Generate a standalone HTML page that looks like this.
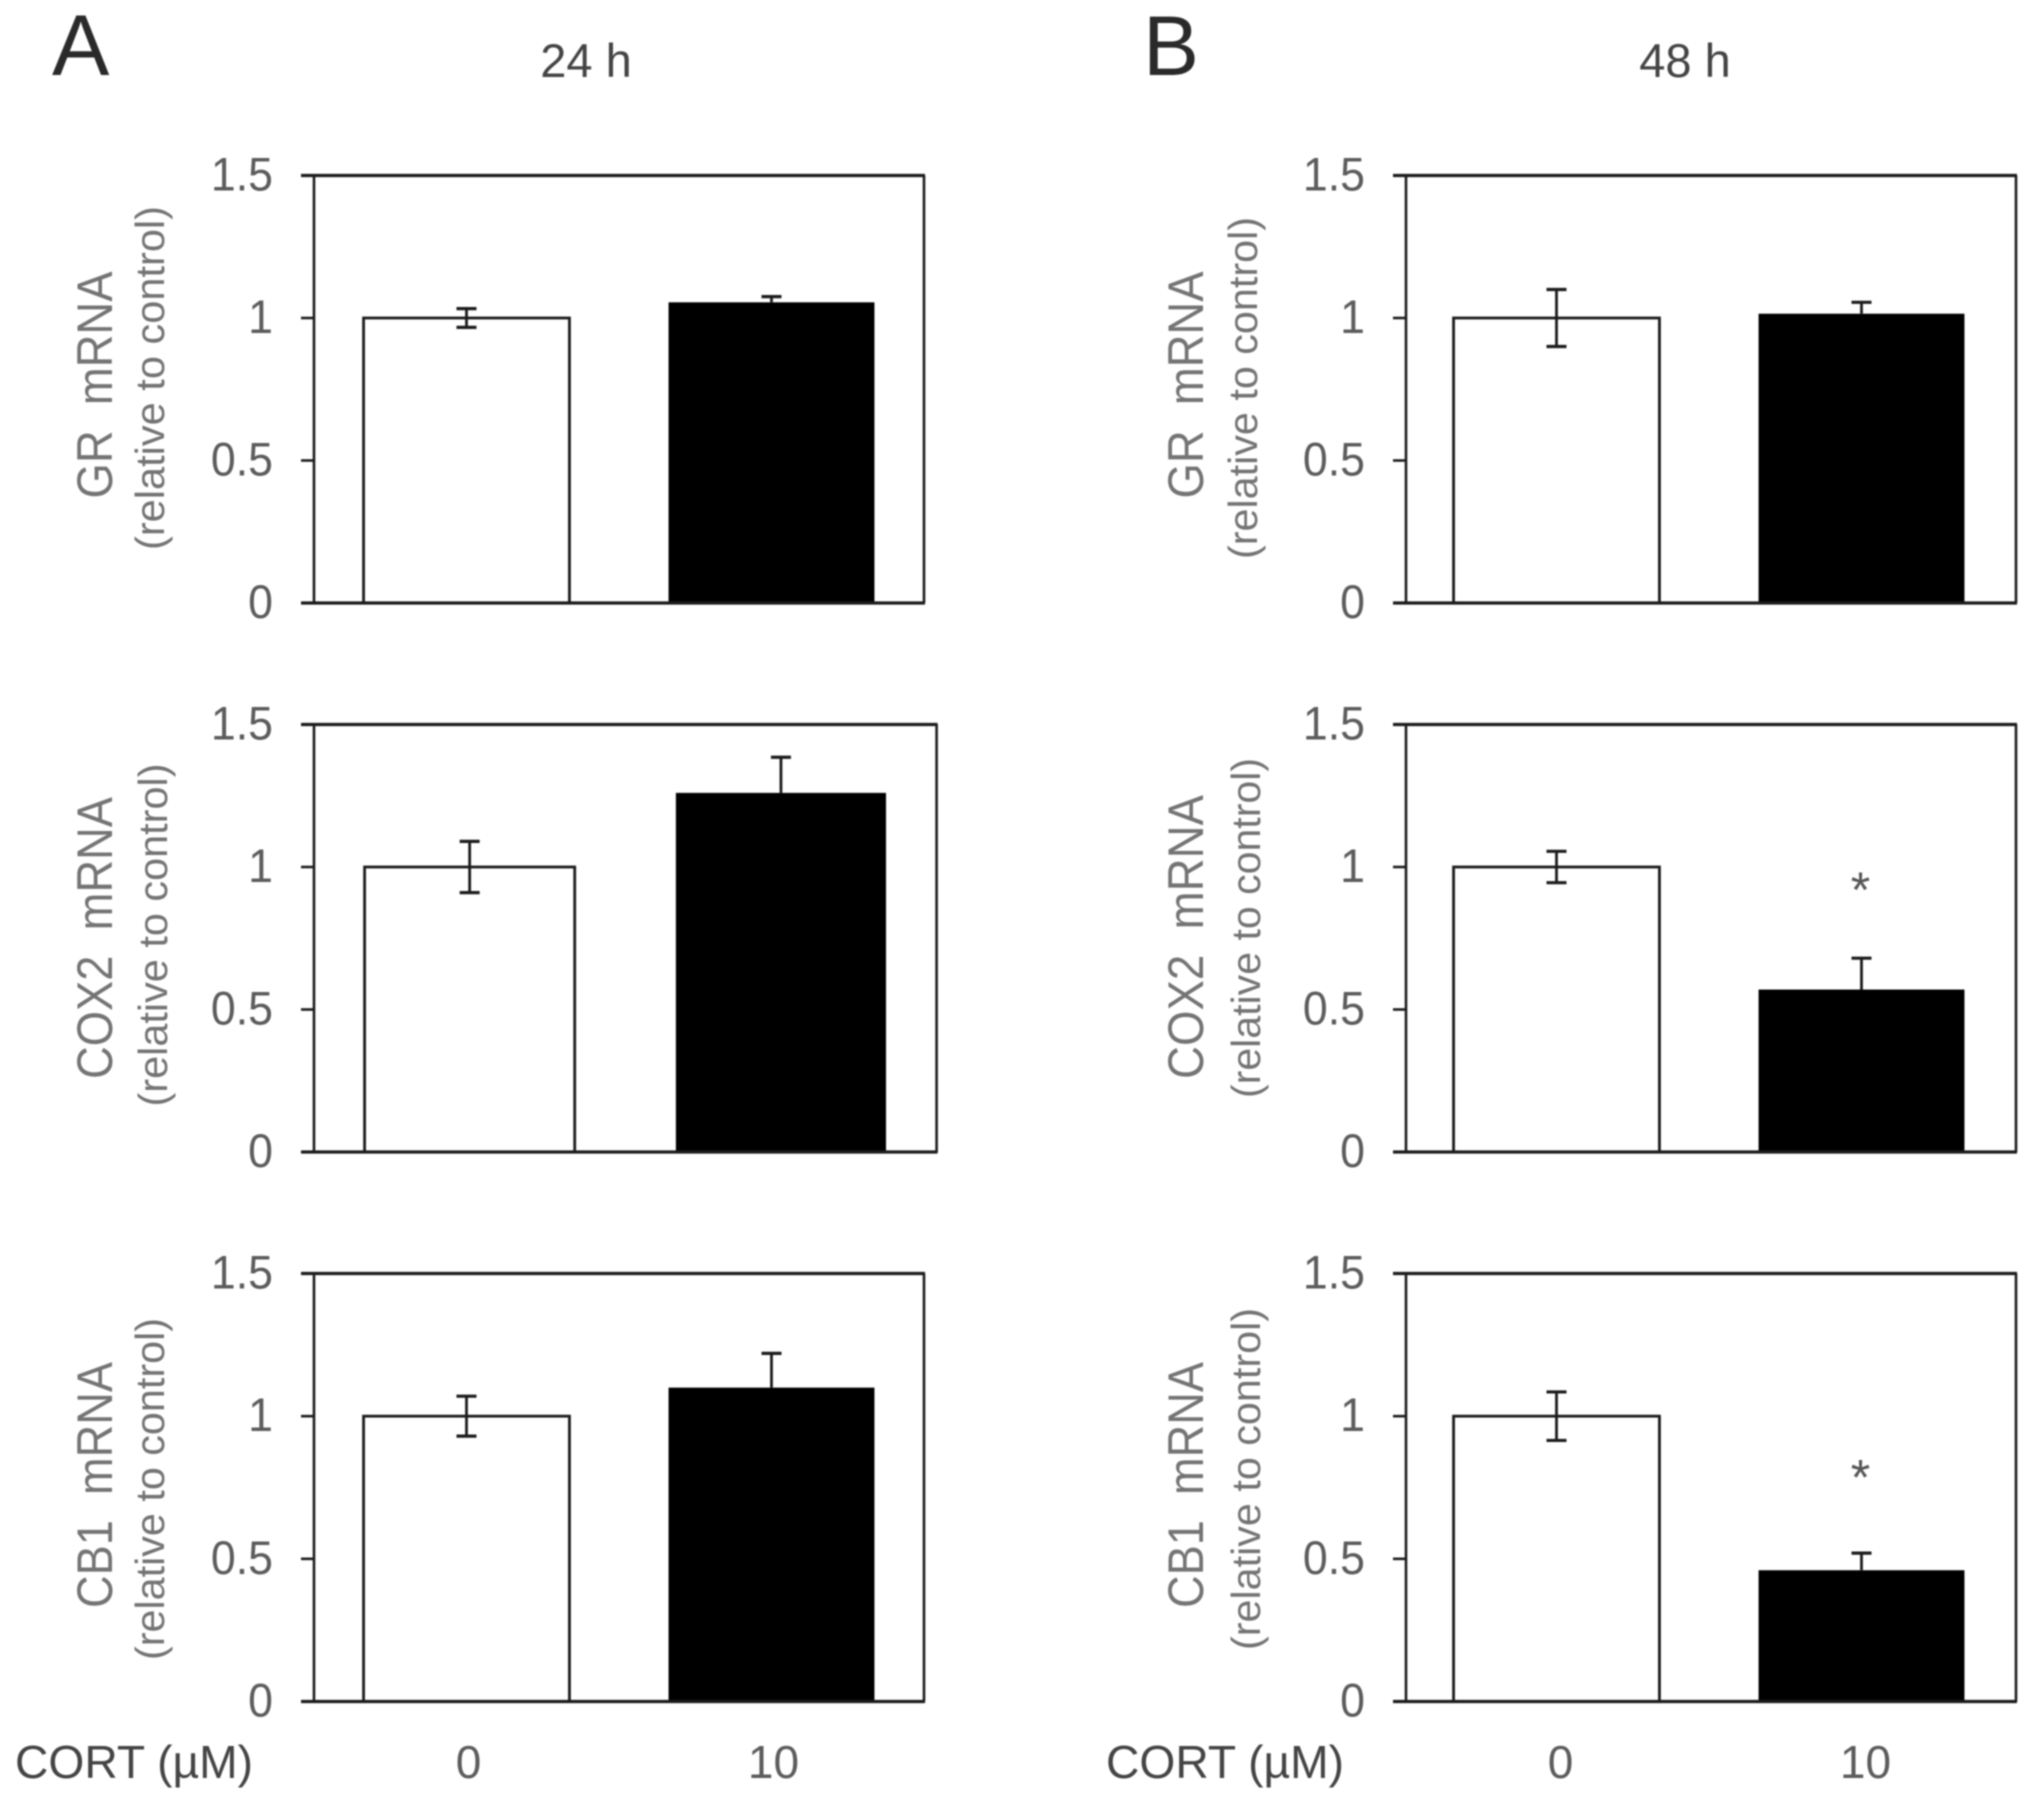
<!DOCTYPE html>
<html lang="en">
<head>
<meta charset="utf-8">
<title>GR, COX2 and CB1 mRNA after CORT treatment</title>
<style>
html,body{margin:0;padding:0;background:#fff;width:2031px;height:1802px;overflow:hidden}
#figure{display:block;filter:blur(0.7px)}
text{font-family:"Liberation Sans",sans-serif}
</style>
</head>
<body>
<svg id="figure" xmlns="http://www.w3.org/2000/svg" width="2031" height="1802" viewBox="0 0 2031 1802">
  <rect x="0" y="0" width="2031" height="1802" fill="#fff"/>
  <text x="52" y="75" font-size="86" fill="#2a2a2a">A</text>
  <text x="1143" y="75" font-size="84" fill="#2a2a2a">B</text>
  <text transform="translate(586,77)" text-anchor="middle" font-size="47" fill="#444">24 h</text>
  <text transform="translate(1685,77)" text-anchor="middle" font-size="47" fill="#444">48 h</text>
  <text x="15" y="1778" font-size="46" textLength="238" lengthAdjust="spacingAndGlyphs" fill="#444">CORT (µM)</text>
  <text x="1106" y="1778" font-size="46" textLength="238" lengthAdjust="spacingAndGlyphs" fill="#444">CORT (µM)</text>
  <g id="charts"></g>
</svg>
<script>
// ---- chart data ----
const genes = ['GR', 'COX2', 'CB1'];
const doseLabels = ['0', '10'];
const tickValues = [0, 0.5, 1, 1.5];
const tickLabels = ['0', '0.5', '1', '1.5'];
const control24h = [1, 1, 1];
const cort24h = [1.055, 1.26, 1.1];
const controlErr24h = [0.033, 0.09, 0.07];
const cortErr24h = [0.02, 0.125, 0.12];
const control48h = [1, 1, 1];
const cort48h = [1.015, 0.57, 0.46];
const controlErr48h = [0.1, 0.055, 0.085];
const cortErr48h = [0.04, 0.11, 0.06];
const asteriskLevel24h = [null, null, null];
const asteriskLevel48h = [null, 0.955, 0.82];
const yMax = 1.5;

// ---- layout (not data) ----
const rowLayouts = [
  { top: 175.5, bottom: 603 },
  { top: 724.5, bottom: 1152 },
  { top: 1273.5, bottom: 1701.5 }
];
const columnLayouts = [
  { key: '24h', left: 314, rights: [924, 936.6, 924], tickX: 273, mainX: 112, subX: [164, 167, 164], barShift: 0, barScale: 0.675,
    mainC: [385, 938, 1485], mainL: [227, 282, 246], subC: [378, 935, 1489], subL: [344, 343, 342], doseY: 1778,
    control: control24h, cort: cort24h, controlErr: controlErr24h, cortErr: cortErr24h, stars: asteriskLevel24h },
  { key: '48h', left: 1406, rights: [2016, 2016, 2016], tickX: 1365, mainX: 1203, subX: [1257, 1260, 1260], barShift: -2, barScale: 0.675,
    mainC: [385, 937, 1485], mainL: [227, 284, 246], subC: [388, 928, 1479], subL: [342, 340, 342], doseY: 1778,
    control: control48h, cort: cort48h, controlErr: controlErr48h, cortErr: cortErr48h, stars: asteriskLevel48h }
];
const INK = '#1c1c1c';
const root = document.getElementById('charts');
const NS = 'http://www.w3.org/2000/svg';

function mk(tag, attrs, parent, text) {
  const el = document.createElementNS(NS, tag);
  for (const k in attrs) el.setAttribute(k, attrs[k]);
  if (text !== undefined) el.textContent = text;
  parent.appendChild(el);
  return el;
}
function yScale(value, row) {
  return row.bottom - (value / yMax) * (row.bottom - row.top);
}
function xCenter(index, left, right) {
  const band = (right - left) / doseLabels.length;
  return left + band * (index + 0.5);
}
function drawError(g, cx, value, err, row, bothSides, name) {
  const yTop = yScale(value + err, row);
  const yBase = bothSides ? yScale(value - err, row) : yScale(value, row);
  const stem = mk('line', { x1: cx, x2: cx, y1: yTop, y2: yBase, stroke: INK, 'stroke-width': 2.8 }, g);
  
  
  const capTop = mk('line', { x1: cx - 10, x2: cx + 10, y1: yTop, y2: yTop, stroke: INK, 'stroke-width': 3.2 }, g);
  
  
  if (bothSides) {
    const capLow = mk('line', { x1: cx - 10, x2: cx + 10, y1: yBase, y2: yBase, stroke: INK, 'stroke-width': 3.2 }, g);
    
    
  }
}

columnLayouts.forEach(function (col) {
  genes.forEach(function (gene, r) {
    const row = rowLayouts[r];
    const left = col.left;
    const right = col.rights[r];
    const id = gene.toLowerCase() + '-' + col.key;
    const g = mk('g', {}, root);
    
    

    // frame
    const frame = mk('rect', { x: left, y: row.top, width: right - left, height: row.bottom - row.top, fill: '#fff', stroke: 'none' }, g);
    
    

    // bars
    const w = ((right - left) / doseLabels.length) * col.barScale;
    const cx0 = xCenter(0, left, right) + col.barShift;
    const cx1 = xCenter(1, left, right) + col.barShift;
    const ctrlTop = yScale(col.control[r], row);
    const ctrlBar = mk('rect', { x: cx0 - w / 2, y: ctrlTop, width: w, height: row.bottom - ctrlTop, fill: '#fff', stroke: INK, 'stroke-width': 2.8 }, g);
    
    
    const cortTop = yScale(col.cort[r], row);
    const cortBar = mk('rect', { x: cx1 - w / 2, y: cortTop, width: w, height: row.bottom - cortTop, fill: '#000' }, g);
    
    

    // error bars
    drawError(g, cx0, col.control[r], col.controlErr[r], row, true, 'control-' + id);
    drawError(g, cx1, col.cort[r], col.cortErr[r], row, false, 'cort-' + id);

    // axes
    const leftAxis = mk('line', { x1: left, x2: left, y1: row.top, y2: row.bottom, stroke: INK, 'stroke-width': 2.6 }, g);
    
    
    const rightEdge = mk('line', { x1: right, x2: right, y1: row.top, y2: row.bottom, stroke: INK, 'stroke-width': 2.6 }, g);
    
    
    const topEdge = mk('line', { x1: left - 13, x2: right + 1, y1: row.top, y2: row.top, stroke: INK, 'stroke-width': 3.2 }, g);
    
    
    const baseLine = mk('line', { x1: left - 13, x2: right + 1, y1: row.bottom, y2: row.bottom, stroke: INK, 'stroke-width': 3.2 }, g);
    
    

    // ticks
    tickValues.forEach(function (v, i) {
      const y = yScale(v, row);
      const tick = mk('line', { x1: left - 13, x2: left, y1: y, y2: y, stroke: INK, 'stroke-width': 2.6 }, g);
      
      
      const label = mk('text', { transform: 'translate(' + col.tickX + ',' + (y + 15) + ') scale(.95,1)', 'text-anchor': 'end', 'font-size': 47, fill: '#5c5c5c' }, g, tickLabels[i]);
      
      
    });

    // y titles
    const mainC = col.mainC[r];
    const main = mk('text', { transform: 'translate(' + col.mainX + ',' + mainC + ') rotate(-90)', 'text-anchor': 'middle', 'font-size': 50, fill: '#747474', textLength: col.mainL[r], lengthAdjust: 'spacingAndGlyphs', 'xml:space': 'preserve', style: 'white-space:pre' }, g, gene + '  mRNA');
    
    
    const sub = mk('text', { transform: 'translate(' + col.subX[r] + ',' + col.subC[r] + ') rotate(-90)', 'text-anchor': 'middle', 'font-size': 41, fill: '#747474', textLength: col.subL[r], lengthAdjust: 'spacingAndGlyphs' }, g, '(relative to control)');
    
    

    // significance
    const star = col.stars[r];
    if (star !== null) {
      const cy = yScale(star, row);
      const mark = mk('text', { x: cx1 - 1, y: cy + 27, 'text-anchor': 'middle', 'font-size': 50, fill: '#555' }, g, '*');
      
      
    }

    // dose labels under bottom row
    if (r === genes.length - 1) {
      doseLabels.forEach(function (d, i) {
        const dl = mk('text', { x: xCenter(i, left, right) + 2, y: col.doseY, 'text-anchor': 'middle', 'font-size': 46, fill: '#5c5c5c' }, g, d);
        
        
      });
    }
  });
});
</script>
</body>
</html>
